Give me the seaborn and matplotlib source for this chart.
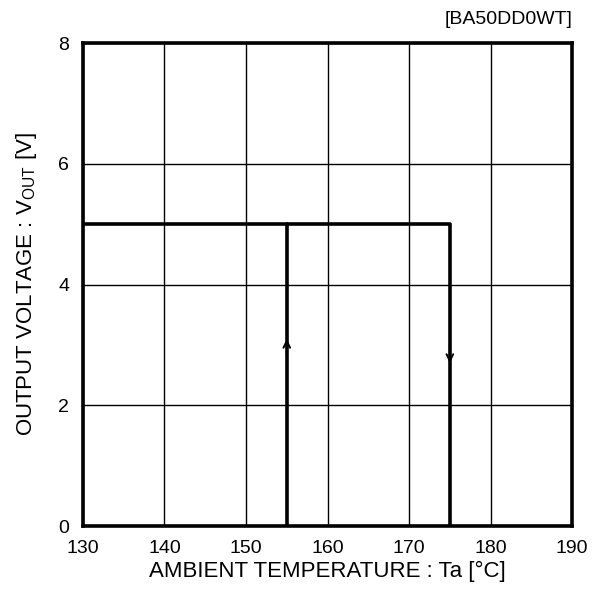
import matplotlib
matplotlib.use("Agg")
import matplotlib.pyplot as plt
import seaborn as sns

# thermal shutdown characteristic (temperature rising / falling)
rise_temp = [130, 175, 175]
rise_vout = [5, 5, 0]
fall_temp = [155, 155]
fall_vout = [0, 5]

# arrow markers on the vertical legs
arrow_temp = [155, 175]
arrow_vout = [3.1, 2.7]
arrow_dir = [1, -1]

x_ticks = [130, 140, 150, 160, 170, 180, 190]
y_ticks = [0, 2, 4, 6, 8]

sns.set_style("white")
plt.rcParams['font.family'] = ['Liberation Sans', 'DejaVu Sans']
plt.rcParams['text.color'] = "black"
plt.rcParams['axes.labelcolor'] = "black"

fig = plt.figure(figsize=(6.01, 6.12), dpi=100)
ax = fig.add_axes([0.138, 0.1405, 0.814, 0.789])

sns.lineplot(x=rise_temp, y=rise_vout, sort=False, estimator=None,
             color="black", linewidth=2.6, ax=ax)
sns.lineplot(x=fall_temp, y=fall_vout, sort=False, estimator=None,
             color="black", linewidth=2.6, ax=ax)

for t, v, d in zip(arrow_temp, arrow_vout, arrow_dir):
    ax.annotate("", xy=(t, v), xytext=(t, v - 0.3 * d),
                arrowprops=dict(arrowstyle="->", color="black", lw=1.4,
                                mutation_scale=12, shrinkA=0, shrinkB=0))

ax.set_xlim(130, 190)
ax.set_ylim(0, 8)
ax.set_xticks(x_ticks)
ax.set_yticks(y_ticks)
ax.grid(True, color="black", linewidth=1.0)
ax.set_axisbelow(True)
for s in ax.spines.values():
    s.set_color("black")
    s.set_linewidth(2.6)
ax.tick_params(axis="both", length=0, labelsize=14, colors="black", pad=10)

ax.set_xlabel("AMBIENT TEMPERATURE : Ta [°C]", fontsize=16, labelpad=3)
ax.set_ylabel(r"OUTPUT VOLTAGE : V$\mathregular{_{OUT}}$ [V]", fontsize=16, labelpad=14)
ax.set_title("[BA50DD0WT]", loc="right", fontsize=14, pad=14)

fig.savefig("out.png", dpi=100)
